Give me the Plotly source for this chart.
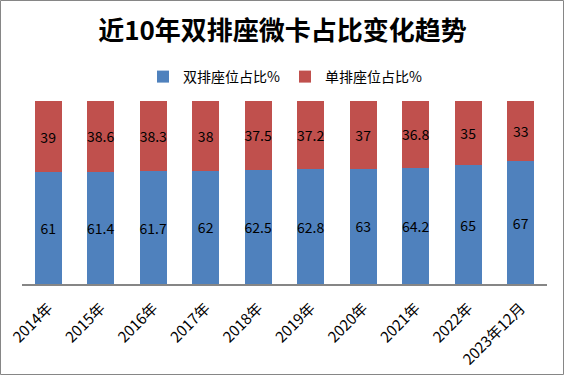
import plotly.graph_objects as go

categories = ["2014年", "2015年", "2016年", "2017年", "2018年", "2019年", "2020年", "2021年", "2022年", "2023年12月"]
double_row = [61, 61.4, 61.7, 62, 62.5, 62.8, 63, 64.2, 65, 67]
single_row = [39, 38.6, 38.3, 38, 37.5, 37.2, 37, 36.8, 35, 33]

W, H = 565, 376
L, R, T, B = 22, 18, 101, 92
pw, ph = W - L - R, H - T - B

font_fam = "Noto Sans CJK SC, DejaVu Sans, sans-serif"

fig = go.Figure()
fig.add_trace(go.Bar(
    x=categories, y=double_row, name="双排座位占比%",
    marker=dict(color="#4F81BD", line=dict(width=0)),
    text=[str(v) for v in double_row], textposition="inside",
    insidetextanchor="middle", textangle=0, constraintext="none",
    textfont=dict(color="black", size=14, family=font_fam),
    cliponaxis=False,
))
fig.add_trace(go.Bar(
    x=categories, y=single_row, name="单排座位占比%",
    marker=dict(color="#C0504D", line=dict(width=0)),
    text=[str(v) for v in single_row], textposition="inside",
    insidetextanchor="middle", textangle=0, constraintext="none",
    textfont=dict(color="black", size=14, family=font_fam),
    cliponaxis=False,
))

def px_x(p):
    return (p - L) / pw

def px_y(p):
    return (H - B - p) / ph

fig.update_layout(
    barmode="stack",
    barnorm="percent",
    bargap=0.49,
    width=W, height=H,
    margin=dict(l=L, r=R, t=T, b=B, pad=0, autoexpand=False),
    paper_bgcolor="white", plot_bgcolor="white",
    font=dict(family=font_fam, color="black"),
    title=dict(
        text="<b>近10年双排座微卡占比变化趋势</b>",
        x=0.5, xanchor="center", xref="container",
        y=1 - 31 / H, yanchor="middle", yref="container",
        font=dict(size=26, color="black", family=font_fam),
    ),
    legend=dict(
        orientation="h", x=px_x(285), xanchor="center",
        y=px_y(77), yanchor="middle",
        font=dict(size=14, color="black", family=font_fam),
        traceorder="normal",
    ),
    showlegend=True,
    xaxis=dict(
        showgrid=False, showline=True, linecolor="#868686", linewidth=1.5,
        tickangle=-45, ticks="", automargin=False, ticklabelstandoff=8,
        tickfont=dict(size=15, color="black", family=font_fam),
        fixedrange=True,
    ),
    yaxis=dict(
        range=[0, 100.01], showgrid=False, showline=False, showticklabels=False,
        zeroline=False, ticks="", fixedrange=True, automargin=False,
    ),
    shapes=[dict(
        type="rect", xref="paper", yref="paper",
        x0=px_x(0.5), x1=px_x(W - 1.5), y0=px_y(0.5), y1=px_y(H - 1.5),
        line=dict(color="#868686", width=1), fillcolor="rgba(0,0,0,0)", layer="below",
    )],
)

fig.write_html(
    "out.html",
    config=dict(displayModeBar=False, staticPlot=True),
    post_script="document.body.style.margin='0';document.body.style.overflow='hidden';",
)
